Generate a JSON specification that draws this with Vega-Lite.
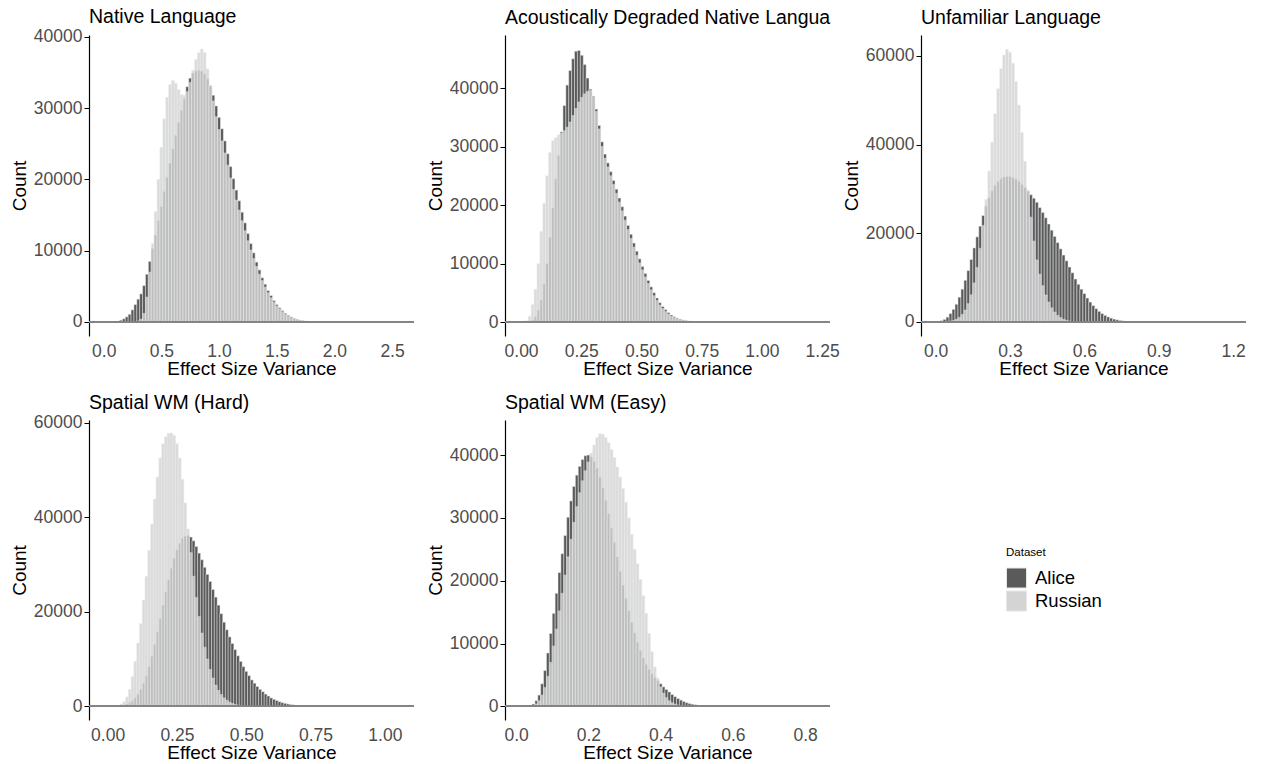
{
"$schema":"https://vega.github.io/schema/vega-lite/v6.json",
"padding":{"left":10,"top":7,"right":0,"bottom":0},
"background":"white",
"config":{
 "font":"Liberation Sans",
 "view":{"stroke":null},
 "axis":{"labelColor":"#4d4d4d","labelFontSize":17.5,"titleFontSize":19,"titleColor":"#000000","titleFontWeight":"normal","grid":false,"domainColor":"#000000","tickColor":"#000000"},
 "axisX":{"domain":false,"ticks":false,"labelPadding":6,"titlePadding":0},
 "axisY":{"domainWidth":1.2,"tickSize":5,"labelPadding":2,"titlePadding":4},
 "title":{"anchor":"start","frame":"group","fontSize":19.5,"fontWeight":"normal","color":"#000000","offset":7},
 "legend":{"orient":"none","legendX":917,"legendY":512,"symbolType":"square","symbolSize":400,"symbolStrokeColor":"#e6e6e6","symbolStrokeWidth":1,"symbolOpacity":1,"labelFontSize":18.5,"titleFontSize":11.5,"titleFontWeight":"normal","titleColor":"#000000","labelColor":"#000000","rowPadding":-3,"labelOffset":8,"titlePadding":9}
},
"datasets":{
"p1":[
{"d":"Alice","x":0.125,"n":120},{"d":"Alice","x":0.15,"n":250},{"d":"Alice","x":0.175,"n":450},{"d":"Alice","x":0.2,"n":720},{"d":"Alice","x":0.225,"n":1080},{"d":"Alice","x":0.25,"n":1700},{"d":"Alice","x":0.275,"n":2450},{"d":"Alice","x":0.3,"n":3200},{"d":"Alice","x":0.325,"n":3950},{"d":"Alice","x":0.35,"n":5100},{"d":"Alice","x":0.375,"n":6700},{"d":"Alice","x":0.4,"n":8500},{"d":"Alice","x":0.425,"n":10300},{"d":"Alice","x":0.45,"n":12200},{"d":"Alice","x":0.475,"n":14200},{"d":"Alice","x":0.5,"n":16200},{"d":"Alice","x":0.525,"n":18300},{"d":"Alice","x":0.55,"n":20300},{"d":"Alice","x":0.575,"n":22300},{"d":"Alice","x":0.6,"n":24300},{"d":"Alice","x":0.625,"n":26200},{"d":"Alice","x":0.65,"n":28000},{"d":"Alice","x":0.675,"n":29700},{"d":"Alice","x":0.7,"n":31300},{"d":"Alice","x":0.725,"n":33000},{"d":"Alice","x":0.75,"n":34200},{"d":"Alice","x":0.775,"n":34900},{"d":"Alice","x":0.8,"n":35200},{"d":"Alice","x":0.825,"n":35300},{"d":"Alice","x":0.85,"n":35200},{"d":"Alice","x":0.875,"n":34800},{"d":"Alice","x":0.9,"n":34100},{"d":"Alice","x":0.925,"n":33100},{"d":"Alice","x":0.95,"n":31800},{"d":"Alice","x":0.975,"n":30300},{"d":"Alice","x":1.0,"n":28700},{"d":"Alice","x":1.025,"n":27100},{"d":"Alice","x":1.05,"n":25400},{"d":"Alice","x":1.075,"n":23600},{"d":"Alice","x":1.1,"n":21800},{"d":"Alice","x":1.125,"n":20100},{"d":"Alice","x":1.15,"n":18500},{"d":"Alice","x":1.175,"n":17000},{"d":"Alice","x":1.2,"n":15400},{"d":"Alice","x":1.225,"n":13900},{"d":"Alice","x":1.25,"n":12400},{"d":"Alice","x":1.275,"n":11000},{"d":"Alice","x":1.3,"n":9700},{"d":"Alice","x":1.325,"n":8400},{"d":"Alice","x":1.35,"n":7300},{"d":"Alice","x":1.375,"n":6200},{"d":"Alice","x":1.4,"n":5300},{"d":"Alice","x":1.425,"n":4400},{"d":"Alice","x":1.45,"n":3700},{"d":"Alice","x":1.475,"n":3000},{"d":"Alice","x":1.5,"n":2450},{"d":"Alice","x":1.525,"n":2000},{"d":"Alice","x":1.55,"n":1600},{"d":"Alice","x":1.575,"n":1250},{"d":"Alice","x":1.6,"n":950},{"d":"Alice","x":1.625,"n":720},{"d":"Alice","x":1.65,"n":530},{"d":"Alice","x":1.675,"n":390},{"d":"Alice","x":1.7,"n":280},{"d":"Alice","x":1.725,"n":190},{"d":"Alice","x":1.75,"n":130},{"d":"Alice","x":1.775,"n":90},{"d":"Alice","x":1.8,"n":60},{"d":"Alice","x":1.825,"n":40},{"d":"Alice","x":1.85,"n":25},
{"d":"Russian","x":0.3,"n":150},{"d":"Russian","x":0.325,"n":400},{"d":"Russian","x":0.35,"n":1200},{"d":"Russian","x":0.375,"n":3500},{"d":"Russian","x":0.4,"n":7000},{"d":"Russian","x":0.425,"n":11000},{"d":"Russian","x":0.45,"n":15500},{"d":"Russian","x":0.475,"n":20000},{"d":"Russian","x":0.5,"n":24500},{"d":"Russian","x":0.525,"n":28500},{"d":"Russian","x":0.55,"n":31500},{"d":"Russian","x":0.575,"n":33300},{"d":"Russian","x":0.6,"n":33900},{"d":"Russian","x":0.625,"n":33500},{"d":"Russian","x":0.65,"n":32600},{"d":"Russian","x":0.675,"n":31900},{"d":"Russian","x":0.7,"n":31800},{"d":"Russian","x":0.725,"n":32300},{"d":"Russian","x":0.75,"n":33600},{"d":"Russian","x":0.775,"n":35300},{"d":"Russian","x":0.8,"n":36800},{"d":"Russian","x":0.825,"n":37800},{"d":"Russian","x":0.85,"n":38300},{"d":"Russian","x":0.875,"n":37800},{"d":"Russian","x":0.9,"n":35500},{"d":"Russian","x":0.925,"n":33200},{"d":"Russian","x":0.95,"n":31000},{"d":"Russian","x":0.975,"n":28800},{"d":"Russian","x":1.0,"n":27000},{"d":"Russian","x":1.025,"n":25400},{"d":"Russian","x":1.05,"n":23700},{"d":"Russian","x":1.075,"n":22000},{"d":"Russian","x":1.1,"n":20200},{"d":"Russian","x":1.125,"n":18600},{"d":"Russian","x":1.15,"n":17100},{"d":"Russian","x":1.175,"n":15700},{"d":"Russian","x":1.2,"n":14200},{"d":"Russian","x":1.225,"n":12800},{"d":"Russian","x":1.25,"n":11400},{"d":"Russian","x":1.275,"n":10100},{"d":"Russian","x":1.3,"n":8900},{"d":"Russian","x":1.325,"n":7800},{"d":"Russian","x":1.35,"n":6700},{"d":"Russian","x":1.375,"n":5800},{"d":"Russian","x":1.4,"n":4900},{"d":"Russian","x":1.425,"n":4100},{"d":"Russian","x":1.45,"n":3400},{"d":"Russian","x":1.475,"n":2800},{"d":"Russian","x":1.5,"n":2250},{"d":"Russian","x":1.525,"n":1850},{"d":"Russian","x":1.55,"n":1450},{"d":"Russian","x":1.575,"n":1150},{"d":"Russian","x":1.6,"n":870},{"d":"Russian","x":1.625,"n":660},{"d":"Russian","x":1.65,"n":490},{"d":"Russian","x":1.675,"n":360},{"d":"Russian","x":1.7,"n":260},{"d":"Russian","x":1.725,"n":180},{"d":"Russian","x":1.75,"n":120},{"d":"Russian","x":1.775,"n":80},{"d":"Russian","x":1.8,"n":55},{"d":"Russian","x":1.825,"n":35},{"d":"Russian","x":1.85,"n":20}
],
"p2":[
{"d":"Alice","x":0.036,"n":150},{"d":"Alice","x":0.048,"n":350},{"d":"Alice","x":0.06,"n":900},{"d":"Alice","x":0.072,"n":2000},{"d":"Alice","x":0.084,"n":3800},{"d":"Alice","x":0.096,"n":6500},{"d":"Alice","x":0.108,"n":10000},{"d":"Alice","x":0.12,"n":14500},{"d":"Alice","x":0.132,"n":19500},{"d":"Alice","x":0.144,"n":24500},{"d":"Alice","x":0.156,"n":28500},{"d":"Alice","x":0.168,"n":32500},{"d":"Alice","x":0.18,"n":37000},{"d":"Alice","x":0.192,"n":40500},{"d":"Alice","x":0.204,"n":43000},{"d":"Alice","x":0.216,"n":45000},{"d":"Alice","x":0.228,"n":46300},{"d":"Alice","x":0.24,"n":46400},{"d":"Alice","x":0.252,"n":45600},{"d":"Alice","x":0.264,"n":44000},{"d":"Alice","x":0.276,"n":41700},{"d":"Alice","x":0.288,"n":39800},{"d":"Alice","x":0.3,"n":38600},{"d":"Alice","x":0.312,"n":36400},{"d":"Alice","x":0.324,"n":33600},{"d":"Alice","x":0.336,"n":30800},{"d":"Alice","x":0.348,"n":28700},{"d":"Alice","x":0.36,"n":27200},{"d":"Alice","x":0.372,"n":25700},{"d":"Alice","x":0.384,"n":24200},{"d":"Alice","x":0.396,"n":22700},{"d":"Alice","x":0.408,"n":21200},{"d":"Alice","x":0.42,"n":19700},{"d":"Alice","x":0.432,"n":18100},{"d":"Alice","x":0.444,"n":16500},{"d":"Alice","x":0.456,"n":15000},{"d":"Alice","x":0.468,"n":13500},{"d":"Alice","x":0.48,"n":12100},{"d":"Alice","x":0.492,"n":10800},{"d":"Alice","x":0.504,"n":9500},{"d":"Alice","x":0.516,"n":8300},{"d":"Alice","x":0.528,"n":7100},{"d":"Alice","x":0.54,"n":6000},{"d":"Alice","x":0.552,"n":5000},{"d":"Alice","x":0.564,"n":4100},{"d":"Alice","x":0.576,"n":3300},{"d":"Alice","x":0.588,"n":2650},{"d":"Alice","x":0.6,"n":2100},{"d":"Alice","x":0.612,"n":1600},{"d":"Alice","x":0.624,"n":1200},{"d":"Alice","x":0.636,"n":900},{"d":"Alice","x":0.648,"n":660},{"d":"Alice","x":0.66,"n":480},{"d":"Alice","x":0.672,"n":350},{"d":"Alice","x":0.684,"n":250},{"d":"Alice","x":0.696,"n":170},{"d":"Alice","x":0.708,"n":115},{"d":"Alice","x":0.72,"n":75},{"d":"Alice","x":0.732,"n":50},{"d":"Alice","x":0.744,"n":30},
{"d":"Russian","x":0.024,"n":200},{"d":"Russian","x":0.036,"n":1000},{"d":"Russian","x":0.048,"n":3000},{"d":"Russian","x":0.06,"n":5600},{"d":"Russian","x":0.072,"n":10000},{"d":"Russian","x":0.084,"n":15500},{"d":"Russian","x":0.096,"n":20300},{"d":"Russian","x":0.108,"n":25000},{"d":"Russian","x":0.12,"n":29000},{"d":"Russian","x":0.132,"n":31000},{"d":"Russian","x":0.144,"n":31500},{"d":"Russian","x":0.156,"n":32000},{"d":"Russian","x":0.168,"n":32300},{"d":"Russian","x":0.18,"n":32700},{"d":"Russian","x":0.192,"n":33300},{"d":"Russian","x":0.204,"n":34200},{"d":"Russian","x":0.216,"n":35300},{"d":"Russian","x":0.228,"n":36500},{"d":"Russian","x":0.24,"n":37600},{"d":"Russian","x":0.252,"n":38400},{"d":"Russian","x":0.264,"n":39000},{"d":"Russian","x":0.276,"n":39400},{"d":"Russian","x":0.288,"n":39600},{"d":"Russian","x":0.3,"n":38500},{"d":"Russian","x":0.312,"n":36000},{"d":"Russian","x":0.324,"n":33000},{"d":"Russian","x":0.336,"n":30000},{"d":"Russian","x":0.348,"n":28000},{"d":"Russian","x":0.36,"n":26500},{"d":"Russian","x":0.372,"n":25000},{"d":"Russian","x":0.384,"n":23500},{"d":"Russian","x":0.396,"n":22000},{"d":"Russian","x":0.408,"n":20500},{"d":"Russian","x":0.42,"n":19000},{"d":"Russian","x":0.432,"n":17400},{"d":"Russian","x":0.444,"n":15800},{"d":"Russian","x":0.456,"n":14300},{"d":"Russian","x":0.468,"n":12800},{"d":"Russian","x":0.48,"n":11400},{"d":"Russian","x":0.492,"n":10100},{"d":"Russian","x":0.504,"n":8900},{"d":"Russian","x":0.516,"n":7700},{"d":"Russian","x":0.528,"n":6600},{"d":"Russian","x":0.54,"n":5500},{"d":"Russian","x":0.552,"n":4500},{"d":"Russian","x":0.564,"n":3700},{"d":"Russian","x":0.576,"n":2900},{"d":"Russian","x":0.588,"n":2300},{"d":"Russian","x":0.6,"n":1800},{"d":"Russian","x":0.612,"n":1350},{"d":"Russian","x":0.624,"n":1000},{"d":"Russian","x":0.636,"n":750},{"d":"Russian","x":0.648,"n":550},{"d":"Russian","x":0.66,"n":400},{"d":"Russian","x":0.672,"n":290},{"d":"Russian","x":0.684,"n":200},{"d":"Russian","x":0.696,"n":140},{"d":"Russian","x":0.708,"n":95},{"d":"Russian","x":0.72,"n":60},{"d":"Russian","x":0.732,"n":40},{"d":"Russian","x":0.744,"n":25}
],
"p3":[
{"d":"Alice","x":0.024,"n":300},{"d":"Alice","x":0.036,"n":600},{"d":"Alice","x":0.048,"n":1100},{"d":"Alice","x":0.06,"n":1900},{"d":"Alice","x":0.072,"n":2850},{"d":"Alice","x":0.084,"n":4000},{"d":"Alice","x":0.096,"n":5600},{"d":"Alice","x":0.108,"n":7400},{"d":"Alice","x":0.12,"n":9400},{"d":"Alice","x":0.132,"n":11600},{"d":"Alice","x":0.144,"n":14100},{"d":"Alice","x":0.156,"n":16700},{"d":"Alice","x":0.168,"n":19200},{"d":"Alice","x":0.18,"n":21600},{"d":"Alice","x":0.192,"n":24000},{"d":"Alice","x":0.204,"n":26100},{"d":"Alice","x":0.216,"n":28000},{"d":"Alice","x":0.228,"n":29600},{"d":"Alice","x":0.24,"n":30800},{"d":"Alice","x":0.252,"n":31700},{"d":"Alice","x":0.264,"n":32300},{"d":"Alice","x":0.276,"n":32700},{"d":"Alice","x":0.288,"n":32800},{"d":"Alice","x":0.3,"n":32800},{"d":"Alice","x":0.312,"n":32600},{"d":"Alice","x":0.324,"n":32200},{"d":"Alice","x":0.336,"n":31700},{"d":"Alice","x":0.348,"n":31000},{"d":"Alice","x":0.36,"n":30300},{"d":"Alice","x":0.372,"n":29500},{"d":"Alice","x":0.384,"n":28700},{"d":"Alice","x":0.396,"n":27900},{"d":"Alice","x":0.408,"n":27000},{"d":"Alice","x":0.42,"n":25800},{"d":"Alice","x":0.432,"n":24700},{"d":"Alice","x":0.444,"n":23500},{"d":"Alice","x":0.456,"n":22100},{"d":"Alice","x":0.468,"n":20700},{"d":"Alice","x":0.48,"n":19300},{"d":"Alice","x":0.492,"n":17900},{"d":"Alice","x":0.504,"n":16500},{"d":"Alice","x":0.516,"n":15100},{"d":"Alice","x":0.528,"n":13800},{"d":"Alice","x":0.54,"n":12400},{"d":"Alice","x":0.552,"n":11100},{"d":"Alice","x":0.564,"n":9700},{"d":"Alice","x":0.576,"n":8500},{"d":"Alice","x":0.588,"n":7400},{"d":"Alice","x":0.6,"n":6400},{"d":"Alice","x":0.612,"n":5400},{"d":"Alice","x":0.624,"n":4500},{"d":"Alice","x":0.636,"n":3700},{"d":"Alice","x":0.648,"n":3000},{"d":"Alice","x":0.66,"n":2400},{"d":"Alice","x":0.672,"n":1900},{"d":"Alice","x":0.684,"n":1500},{"d":"Alice","x":0.696,"n":1150},{"d":"Alice","x":0.708,"n":880},{"d":"Alice","x":0.72,"n":660},{"d":"Alice","x":0.732,"n":490},{"d":"Alice","x":0.744,"n":360},{"d":"Alice","x":0.756,"n":260},{"d":"Alice","x":0.768,"n":180},{"d":"Alice","x":0.78,"n":120},{"d":"Alice","x":0.792,"n":80},{"d":"Alice","x":0.804,"n":50},
{"d":"Russian","x":0.06,"n":200},{"d":"Russian","x":0.072,"n":360},{"d":"Russian","x":0.084,"n":625},{"d":"Russian","x":0.096,"n":1050},{"d":"Russian","x":0.108,"n":1710},{"d":"Russian","x":0.12,"n":2700},{"d":"Russian","x":0.132,"n":4140},{"d":"Russian","x":0.144,"n":6140},{"d":"Russian","x":0.156,"n":8820},{"d":"Russian","x":0.168,"n":12300},{"d":"Russian","x":0.18,"n":16620},{"d":"Russian","x":0.192,"n":21780},{"d":"Russian","x":0.204,"n":27630},{"d":"Russian","x":0.216,"n":34010},{"d":"Russian","x":0.228,"n":40580},{"d":"Russian","x":0.24,"n":46940},{"d":"Russian","x":0.252,"n":52600},{"d":"Russian","x":0.264,"n":57160},{"d":"Russian","x":0.276,"n":60210},{"d":"Russian","x":0.288,"n":61480},{"d":"Russian","x":0.3,"n":60840},{"d":"Russian","x":0.312,"n":58370},{"d":"Russian","x":0.324,"n":54270},{"d":"Russian","x":0.336,"n":48920},{"d":"Russian","x":0.348,"n":42740},{"d":"Russian","x":0.36,"n":36210},{"d":"Russian","x":0.372,"n":29730},{"d":"Russian","x":0.384,"n":23650},{"d":"Russian","x":0.396,"n":18250},{"d":"Russian","x":0.408,"n":14000},{"d":"Russian","x":0.42,"n":10800},{"d":"Russian","x":0.432,"n":8200},{"d":"Russian","x":0.444,"n":6100},{"d":"Russian","x":0.456,"n":4500},{"d":"Russian","x":0.468,"n":3200},{"d":"Russian","x":0.48,"n":2250},{"d":"Russian","x":0.492,"n":1500},{"d":"Russian","x":0.504,"n":1000},{"d":"Russian","x":0.516,"n":620},{"d":"Russian","x":0.528,"n":380},{"d":"Russian","x":0.54,"n":220},{"d":"Russian","x":0.552,"n":120}
],
"p4":[
{"d":"Alice","x":0.05,"n":150},{"d":"Alice","x":0.06,"n":300},{"d":"Alice","x":0.07,"n":500},{"d":"Alice","x":0.08,"n":800},{"d":"Alice","x":0.09,"n":1200},{"d":"Alice","x":0.1,"n":1800},{"d":"Alice","x":0.11,"n":2600},{"d":"Alice","x":0.12,"n":3600},{"d":"Alice","x":0.13,"n":4900},{"d":"Alice","x":0.14,"n":6500},{"d":"Alice","x":0.15,"n":8400},{"d":"Alice","x":0.16,"n":10600},{"d":"Alice","x":0.17,"n":13100},{"d":"Alice","x":0.18,"n":15800},{"d":"Alice","x":0.19,"n":18600},{"d":"Alice","x":0.2,"n":21400},{"d":"Alice","x":0.21,"n":24200},{"d":"Alice","x":0.22,"n":26800},{"d":"Alice","x":0.23,"n":29200},{"d":"Alice","x":0.24,"n":31300},{"d":"Alice","x":0.25,"n":33100},{"d":"Alice","x":0.26,"n":34500},{"d":"Alice","x":0.27,"n":35500},{"d":"Alice","x":0.28,"n":36000},{"d":"Alice","x":0.29,"n":36100},{"d":"Alice","x":0.3,"n":35800},{"d":"Alice","x":0.31,"n":35000},{"d":"Alice","x":0.32,"n":33800},{"d":"Alice","x":0.33,"n":32400},{"d":"Alice","x":0.34,"n":31000},{"d":"Alice","x":0.35,"n":29400},{"d":"Alice","x":0.36,"n":27900},{"d":"Alice","x":0.37,"n":26400},{"d":"Alice","x":0.38,"n":24700},{"d":"Alice","x":0.39,"n":23100},{"d":"Alice","x":0.4,"n":21400},{"d":"Alice","x":0.41,"n":19600},{"d":"Alice","x":0.42,"n":17800},{"d":"Alice","x":0.43,"n":16200},{"d":"Alice","x":0.44,"n":14700},{"d":"Alice","x":0.45,"n":13300},{"d":"Alice","x":0.46,"n":12000},{"d":"Alice","x":0.47,"n":10700},{"d":"Alice","x":0.48,"n":9500},{"d":"Alice","x":0.49,"n":8400},{"d":"Alice","x":0.5,"n":7400},{"d":"Alice","x":0.51,"n":6500},{"d":"Alice","x":0.52,"n":5600},{"d":"Alice","x":0.53,"n":4900},{"d":"Alice","x":0.54,"n":4200},{"d":"Alice","x":0.55,"n":3600},{"d":"Alice","x":0.56,"n":3100},{"d":"Alice","x":0.57,"n":2600},{"d":"Alice","x":0.58,"n":2200},{"d":"Alice","x":0.59,"n":1800},{"d":"Alice","x":0.6,"n":1500},{"d":"Alice","x":0.61,"n":1250},{"d":"Alice","x":0.62,"n":1000},{"d":"Alice","x":0.63,"n":800},{"d":"Alice","x":0.64,"n":650},{"d":"Alice","x":0.65,"n":520},{"d":"Alice","x":0.66,"n":410},{"d":"Alice","x":0.67,"n":320},{"d":"Alice","x":0.68,"n":250},{"d":"Alice","x":0.69,"n":190},{"d":"Alice","x":0.7,"n":140},{"d":"Alice","x":0.71,"n":100},{"d":"Alice","x":0.72,"n":70},{"d":"Alice","x":0.73,"n":50},
{"d":"Russian","x":0.05,"n":500},{"d":"Russian","x":0.06,"n":1000},{"d":"Russian","x":0.07,"n":2000},{"d":"Russian","x":0.08,"n":3600},{"d":"Russian","x":0.09,"n":6300},{"d":"Russian","x":0.1,"n":9500},{"d":"Russian","x":0.11,"n":13400},{"d":"Russian","x":0.12,"n":17500},{"d":"Russian","x":0.13,"n":22500},{"d":"Russian","x":0.14,"n":27500},{"d":"Russian","x":0.15,"n":33000},{"d":"Russian","x":0.16,"n":38500},{"d":"Russian","x":0.17,"n":43800},{"d":"Russian","x":0.18,"n":48500},{"d":"Russian","x":0.19,"n":52500},{"d":"Russian","x":0.2,"n":55500},{"d":"Russian","x":0.21,"n":57000},{"d":"Russian","x":0.22,"n":57700},{"d":"Russian","x":0.23,"n":57800},{"d":"Russian","x":0.24,"n":57300},{"d":"Russian","x":0.25,"n":55500},{"d":"Russian","x":0.26,"n":52500},{"d":"Russian","x":0.27,"n":48000},{"d":"Russian","x":0.28,"n":43000},{"d":"Russian","x":0.29,"n":37500},{"d":"Russian","x":0.3,"n":32500},{"d":"Russian","x":0.31,"n":27500},{"d":"Russian","x":0.32,"n":23000},{"d":"Russian","x":0.33,"n":19000},{"d":"Russian","x":0.34,"n":15500},{"d":"Russian","x":0.35,"n":12500},{"d":"Russian","x":0.36,"n":10000},{"d":"Russian","x":0.37,"n":7800},{"d":"Russian","x":0.38,"n":6000},{"d":"Russian","x":0.39,"n":4500},{"d":"Russian","x":0.4,"n":3400},{"d":"Russian","x":0.41,"n":2500},{"d":"Russian","x":0.42,"n":1800},{"d":"Russian","x":0.43,"n":1300},{"d":"Russian","x":0.44,"n":900},{"d":"Russian","x":0.45,"n":620},{"d":"Russian","x":0.46,"n":420},{"d":"Russian","x":0.47,"n":280},{"d":"Russian","x":0.48,"n":180},{"d":"Russian","x":0.49,"n":110},{"d":"Russian","x":0.5,"n":70}
],
"p5":[
{"d":"Alice","x":0.04,"n":150},{"d":"Alice","x":0.048,"n":370},{"d":"Alice","x":0.056,"n":900},{"d":"Alice","x":0.064,"n":1800},{"d":"Alice","x":0.072,"n":3600},{"d":"Alice","x":0.08,"n":5700},{"d":"Alice","x":0.088,"n":8500},{"d":"Alice","x":0.096,"n":11600},{"d":"Alice","x":0.104,"n":14800},{"d":"Alice","x":0.112,"n":18000},{"d":"Alice","x":0.12,"n":21300},{"d":"Alice","x":0.128,"n":24300},{"d":"Alice","x":0.136,"n":27200},{"d":"Alice","x":0.144,"n":30100},{"d":"Alice","x":0.152,"n":32700},{"d":"Alice","x":0.16,"n":35000},{"d":"Alice","x":0.168,"n":36800},{"d":"Alice","x":0.176,"n":38200},{"d":"Alice","x":0.184,"n":39300},{"d":"Alice","x":0.192,"n":39900},{"d":"Alice","x":0.2,"n":40000},{"d":"Alice","x":0.208,"n":39700},{"d":"Alice","x":0.216,"n":39000},{"d":"Alice","x":0.224,"n":37900},{"d":"Alice","x":0.232,"n":36500},{"d":"Alice","x":0.24,"n":34800},{"d":"Alice","x":0.248,"n":32800},{"d":"Alice","x":0.256,"n":30700},{"d":"Alice","x":0.264,"n":28400},{"d":"Alice","x":0.272,"n":26100},{"d":"Alice","x":0.28,"n":23800},{"d":"Alice","x":0.288,"n":21500},{"d":"Alice","x":0.296,"n":19300},{"d":"Alice","x":0.304,"n":17200},{"d":"Alice","x":0.312,"n":15200},{"d":"Alice","x":0.32,"n":13400},{"d":"Alice","x":0.328,"n":11700},{"d":"Alice","x":0.336,"n":10200},{"d":"Alice","x":0.344,"n":8900},{"d":"Alice","x":0.352,"n":7700},{"d":"Alice","x":0.36,"n":6700},{"d":"Alice","x":0.368,"n":5900},{"d":"Alice","x":0.376,"n":5200},{"d":"Alice","x":0.384,"n":4600},{"d":"Alice","x":0.392,"n":4100},{"d":"Alice","x":0.4,"n":3600},{"d":"Alice","x":0.408,"n":3100},{"d":"Alice","x":0.416,"n":2700},{"d":"Alice","x":0.424,"n":2300},{"d":"Alice","x":0.432,"n":1900},{"d":"Alice","x":0.44,"n":1550},{"d":"Alice","x":0.448,"n":1250},{"d":"Alice","x":0.456,"n":1000},{"d":"Alice","x":0.464,"n":780},{"d":"Alice","x":0.472,"n":600},{"d":"Alice","x":0.48,"n":460},{"d":"Alice","x":0.488,"n":350},{"d":"Alice","x":0.496,"n":260},{"d":"Alice","x":0.504,"n":190},{"d":"Alice","x":0.512,"n":140},{"d":"Alice","x":0.52,"n":100},{"d":"Alice","x":0.528,"n":70},{"d":"Alice","x":0.536,"n":50},
{"d":"Russian","x":0.048,"n":150},{"d":"Russian","x":0.056,"n":400},{"d":"Russian","x":0.064,"n":900},{"d":"Russian","x":0.072,"n":1800},{"d":"Russian","x":0.08,"n":3000},{"d":"Russian","x":0.088,"n":4800},{"d":"Russian","x":0.096,"n":7000},{"d":"Russian","x":0.104,"n":9600},{"d":"Russian","x":0.112,"n":12300},{"d":"Russian","x":0.12,"n":15200},{"d":"Russian","x":0.128,"n":18000},{"d":"Russian","x":0.136,"n":20900},{"d":"Russian","x":0.144,"n":23800},{"d":"Russian","x":0.152,"n":26600},{"d":"Russian","x":0.16,"n":29300},{"d":"Russian","x":0.168,"n":31800},{"d":"Russian","x":0.176,"n":34000},{"d":"Russian","x":0.184,"n":35900},{"d":"Russian","x":0.192,"n":37500},{"d":"Russian","x":0.2,"n":38900},{"d":"Russian","x":0.208,"n":40300},{"d":"Russian","x":0.216,"n":41600},{"d":"Russian","x":0.224,"n":42800},{"d":"Russian","x":0.232,"n":43400},{"d":"Russian","x":0.24,"n":43300},{"d":"Russian","x":0.248,"n":42800},{"d":"Russian","x":0.256,"n":42000},{"d":"Russian","x":0.264,"n":40900},{"d":"Russian","x":0.272,"n":39600},{"d":"Russian","x":0.28,"n":38100},{"d":"Russian","x":0.288,"n":36500},{"d":"Russian","x":0.296,"n":34700},{"d":"Russian","x":0.304,"n":32500},{"d":"Russian","x":0.312,"n":30000},{"d":"Russian","x":0.32,"n":27400},{"d":"Russian","x":0.328,"n":25000},{"d":"Russian","x":0.336,"n":22700},{"d":"Russian","x":0.344,"n":20200},{"d":"Russian","x":0.352,"n":17600},{"d":"Russian","x":0.36,"n":14800},{"d":"Russian","x":0.368,"n":11600},{"d":"Russian","x":0.376,"n":8700},{"d":"Russian","x":0.384,"n":6300},{"d":"Russian","x":0.392,"n":4500},{"d":"Russian","x":0.4,"n":3100},{"d":"Russian","x":0.408,"n":2100},{"d":"Russian","x":0.416,"n":1400},{"d":"Russian","x":0.424,"n":900},{"d":"Russian","x":0.432,"n":580},{"d":"Russian","x":0.44,"n":360},{"d":"Russian","x":0.448,"n":220},{"d":"Russian","x":0.456,"n":130},{"d":"Russian","x":0.464,"n":80}
]
},
"bounds":"flush",
"columns":3,
"spacing":{"row":84,"column":91},
"concat":[
 {"width":325,"height":301,"title":{"text":"Native Language","offset":0},"data":{"name":"p1"},
  "layer":[
   {"encoding":{
     "x":{"field":"x","type":"quantitative","scale":{"domain":[-0.084,2.647],"nice":false,"zero":false},"axis":{"values":[0,0.5,1,1.5,2,2.5],"format":".1f","title":"Effect Size Variance"}},
     "y":{"field":"n","type":"quantitative","scale":{"domain":[-1964,40252],"nice":false,"zero":false},"axis":{"values":[0,10000,20000,30000,40000],"format":"d","title":"Count"}},
     "y2":{"datum":0},
     "color":{"field":"d","type":"nominal","scale":{"domain":["Alice","Russian"],"range":["#5a5a5a","#d4d4d4"]},"legend":{"title":"Dataset"}}},
    "layer":[
     {"transform":[{"filter":"datum.d==='Alice'"}],"mark":{"type":"bar","size":2.95,"stroke":"#eaecef","strokeWidth":0.5}},
     {"transform":[{"filter":"datum.d==='Russian'"}],"mark":{"type":"bar","size":2.95,"stroke":"#eaecef","strokeWidth":0.5,"opacity":0.82}}
    ]},
   {"mark":{"type":"rule","color":"#858585","strokeWidth":1},"encoding":{"y":{"datum":0}}}
  ]},
 {"width":325,"height":301,"title":{"text":"Acoustically Degraded Native Langua"},"data":{"name":"p2"},
  "layer":[
   {"encoding":{
     "x":{"field":"x","type":"quantitative","scale":{"domain":[-0.046,1.262],"nice":false,"zero":false},"axis":{"values":[0,0.25,0.5,0.75,1,1.25],"format":".2f","title":"Effect Size Variance"}},
     "y":{"field":"n","type":"quantitative","scale":{"domain":[-2393,49060],"nice":false,"zero":false},"axis":{"values":[0,10000,20000,30000,40000],"format":"d","title":"Count"}},
     "y2":{"datum":0},
     "color":{"field":"d","type":"nominal","scale":{"domain":["Alice","Russian"],"range":["#5a5a5a","#d4d4d4"]},"legend":{"title":"Dataset"}}},
    "layer":[
     {"transform":[{"filter":"datum.d==='Alice'"}],"mark":{"type":"bar","size":2.95,"stroke":"#eaecef","strokeWidth":0.5}},
     {"transform":[{"filter":"datum.d==='Russian'"}],"mark":{"type":"bar","size":2.95,"stroke":"#eaecef","strokeWidth":0.5,"opacity":0.82}}
    ]},
   {"mark":{"type":"rule","color":"#858585","strokeWidth":1},"encoding":{"y":{"datum":0}}}
  ]},
 {"width":325,"height":301,"title":{"text":"Unfamiliar Language"},"data":{"name":"p3"},
  "layer":[
   {"encoding":{
     "x":{"field":"x","type":"quantitative","scale":{"domain":[-0.039,1.232],"nice":false,"zero":false},"axis":{"values":[0,0.3,0.6,0.9,1.2],"format":".1f","title":"Effect Size Variance"}},
     "y":{"field":"n","type":"quantitative","scale":{"domain":[-3157,64713],"nice":false,"zero":false},"axis":{"values":[0,20000,40000,60000],"format":"d","title":"Count"}},
     "y2":{"datum":0},
     "color":{"field":"d","type":"nominal","scale":{"domain":["Alice","Russian"],"range":["#5a5a5a","#d4d4d4"]},"legend":{"title":"Dataset"}}},
    "layer":[
     {"transform":[{"filter":"datum.d==='Alice'"}],"mark":{"type":"bar","size":2.95,"stroke":"#eaecef","strokeWidth":0.5}},
     {"transform":[{"filter":"datum.d==='Russian'"}],"mark":{"type":"bar","size":2.95,"stroke":"#eaecef","strokeWidth":0.5,"opacity":0.82}}
    ]},
   {"mark":{"type":"rule","color":"#858585","strokeWidth":1},"encoding":{"y":{"datum":0}}}
  ]},
 {"width":325,"height":300,"title":{"text":"Spatial WM (Hard)","offset":0},"data":{"name":"p4"},
  "layer":[
   {"encoding":{
     "x":{"field":"x","type":"quantitative","scale":{"domain":[-0.049,1.087],"nice":false,"zero":false},"axis":{"values":[0,0.25,0.5,0.75,1],"format":".2f","title":"Effect Size Variance"}},
     "y":{"field":"n","type":"quantitative","scale":{"domain":[-2878,60529],"nice":false,"zero":false},"axis":{"values":[0,20000,40000,60000],"format":"d","title":"Count"}},
     "y2":{"datum":0},
     "color":{"field":"d","type":"nominal","scale":{"domain":["Alice","Russian"],"range":["#5a5a5a","#d4d4d4"]},"legend":{"title":"Dataset"}}},
    "layer":[
     {"transform":[{"filter":"datum.d==='Alice'"}],"mark":{"type":"bar","size":2.95,"stroke":"#eaecef","strokeWidth":0.5}},
     {"transform":[{"filter":"datum.d==='Russian'"}],"mark":{"type":"bar","size":2.95,"stroke":"#eaecef","strokeWidth":0.5,"opacity":0.82}}
    ]},
   {"mark":{"type":"rule","color":"#858585","strokeWidth":1},"encoding":{"y":{"datum":0}}}
  ]},
 {"width":325,"height":300,"title":{"text":"Spatial WM (Easy)"},"data":{"name":"p5"},
  "layer":[
   {"encoding":{
     "x":{"field":"x","type":"quantitative","scale":{"domain":[-0.017,0.855],"nice":false,"zero":false},"axis":{"values":[0,0.2,0.4,0.6,0.8],"format":".1f","title":"Effect Size Variance"}},
     "y":{"field":"n","type":"quantitative","scale":{"domain":[-2167,45578],"nice":false,"zero":false},"axis":{"values":[0,10000,20000,30000,40000],"format":"d","title":"Count"}},
     "y2":{"datum":0},
     "color":{"field":"d","type":"nominal","scale":{"domain":["Alice","Russian"],"range":["#5a5a5a","#d4d4d4"]},"legend":{"title":"Dataset"}}},
    "layer":[
     {"transform":[{"filter":"datum.d==='Alice'"}],"mark":{"type":"bar","size":2.95,"stroke":"#eaecef","strokeWidth":0.5}},
     {"transform":[{"filter":"datum.d==='Russian'"}],"mark":{"type":"bar","size":2.95,"stroke":"#eaecef","strokeWidth":0.5,"opacity":0.82}}
    ]},
   {"mark":{"type":"rule","color":"#858585","strokeWidth":1},"encoding":{"y":{"datum":0}}}
  ]}
]
}
